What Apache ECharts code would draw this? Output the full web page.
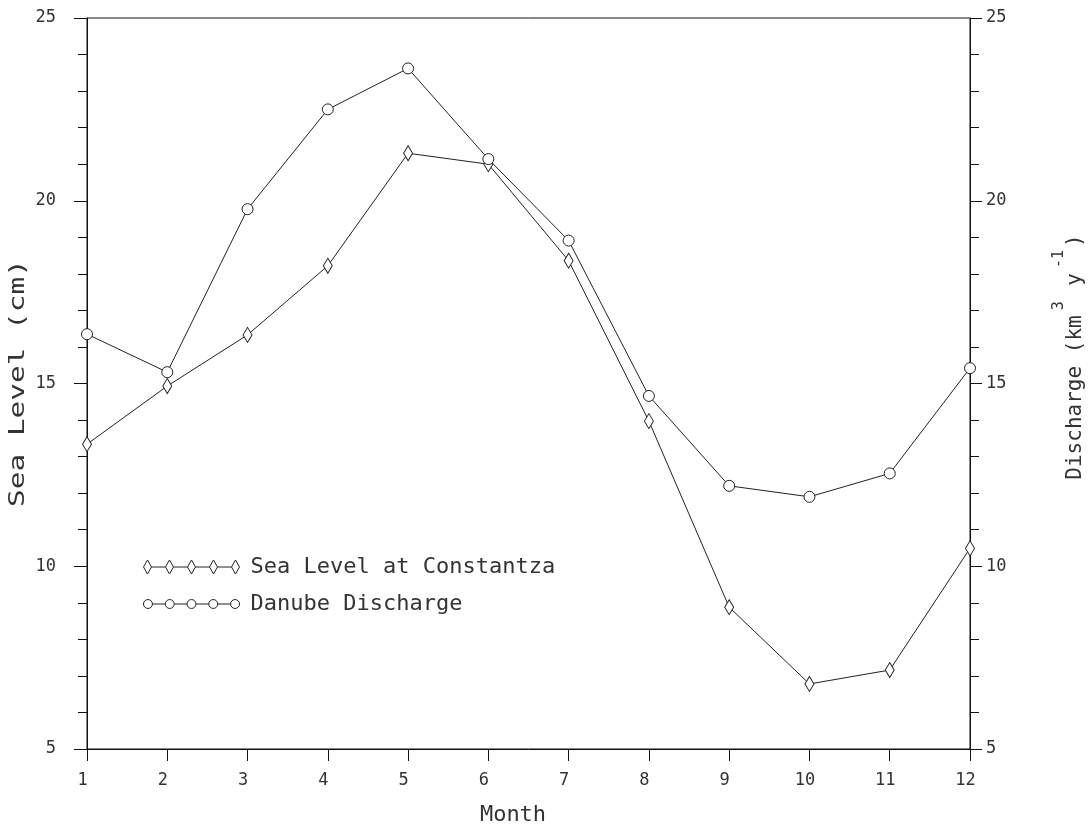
<!DOCTYPE html>
<html>
<head>
<meta charset="utf-8">
<script src="https://cdn.jsdelivr.net/npm/echarts@6/dist/echarts.min.js"></script>
<style>
html,body{margin:0;padding:0;background:#fff;}
#c{width:1089px;height:827px;}
</style>
</head>
<body>
<div id="c"></div>
<script>
const months = [1, 2, 3, 4, 5, 6, 7, 8, 9, 10, 11, 12];
const seaLevel = [13.34, 14.93, 16.33, 18.22, 21.30, 21.00, 18.36, 13.97, 8.88, 6.78, 7.16, 10.49];
const discharge = [16.35, 15.31, 19.77, 22.50, 23.62, 21.14, 18.91, 14.66, 12.20, 11.90, 12.54, 15.42];
const seriesNames = ['Sea Level at Constantza', 'Danube Discharge'];
const yRange = [5, 25];
const yStep = 5;

const FONT = 'DejaVu Sans Mono';
const INK = '#111';
const LINE = '#222';
const TXT = '#333';

const diamondIcon = 'path://M4 0 L8 7 L4 14 L0 7 Z M8 7 L22 7 M26 0 L30 7 L26 14 L22 7 Z M30 7 L44 7 M48 0 L52 7 L48 14 L44 7 Z M52 7 L66 7 M70 0 L74 7 L70 14 L66 7 Z M74 7 L88 7 M92 0 L96 7 L92 14 L88 7 Z';
function circ(cx){return 'M'+(cx-4.5)+' 7 A4.5 4.5 0 1 0 '+(cx+4.5)+' 7 A4.5 4.5 0 1 0 '+(cx-4.5)+' 7 Z ';}
let circleIcon = 'path://';
for (let k = 0; k < 5; k++) {
  const cx = 4.5 + 22 * k;
  circleIcon += circ(cx);
  if (k < 4) circleIcon += 'M' + (cx + 4.5) + ' 7 L' + (cx + 17.5) + ' 7 ';
}

const chart = echarts.init(document.getElementById('c'), null, {renderer: 'canvas'});

const yAxisCommon = {
  type: 'value', min: yRange[0], max: yRange[1], interval: yStep,
  axisLine: {show: true, lineStyle: {color: INK, width: 1}},
  splitLine: {show: false},
  minorTick: {show: true, splitNumber: 5, length: 9, lineStyle: {color: INK, width: 1}},
  axisLabel: {fontFamily: FONT, fontSize: 17, color: TXT, padding: [8, 0, 0, 0]}
};

chart.setOption({
  animation: false,
  backgroundColor: '#fff',
  grid: {left: 87, right: 119, top: 18, bottom: 78, show: true, borderColor: INK, borderWidth: 1, backgroundColor: 'transparent'},
  legend: {
    orient: 'vertical', left: 138, top: 551,
    itemWidth: 96, itemHeight: 14, itemGap: 15,
    itemStyle: {color: '#fff', borderColor: LINE, borderWidth: 1},
    textStyle: {fontFamily: FONT, fontSize: 22, color: TXT, padding: [0, 0, 0, 6]},
    data: [
      {name: seriesNames[0], icon: diamondIcon},
      {name: seriesNames[1], icon: circleIcon}
    ]
  },
  xAxis: {
    type: 'value', min: months[0], max: months[months.length - 1], interval: 1,
    axisLine: {show: true, onZero: false, lineStyle: {color: INK, width: 1}},
    axisTick: {show: true, length: 12, lineStyle: {color: INK}},
    splitLine: {show: false},
    axisLabel: {fontFamily: FONT, fontSize: 17, color: TXT, margin: 23, padding: [0, 9, 0, 0]}
  },
  yAxis: [
    Object.assign({}, yAxisCommon, {
      position: 'left',
      axisTick: {show: true, length: 13, lineStyle: {color: INK}},
      axisLabel: Object.assign({}, yAxisCommon.axisLabel, {margin: 31})
    }),
    Object.assign({}, yAxisCommon, {
      position: 'right',
      axisTick: {show: true, length: 12, lineStyle: {color: INK}},
      axisLabel: Object.assign({}, yAxisCommon.axisLabel, {margin: 16})
    })
  ],
  graphic: [
    {type: 'text', x: 513, y: 815, style: {text: 'Month', font: '22px ' + FONT, fill: TXT, align: 'center', verticalAlign: 'middle'}},
    {type: 'text', x: 19, y: 383, rotation: Math.PI / 2, scaleX: 1.4,
     style: {text: 'Sea Level (cm)', font: '21px ' + FONT, fill: TXT, align: 'center', verticalAlign: 'middle'}},
    {type: 'text', x: 1075, y: 357, rotation: Math.PI / 2,
     style: {
       text: '{n|Discharge (km}{s|3}{n| y}{s|-1}{n|)}',
       align: 'center', verticalAlign: 'middle',
       rich: {
         n: {font: '21px ' + FONT, fill: TXT, verticalAlign: 'bottom', lineHeight: 22},
         s: {font: '15px ' + FONT, fill: TXT, verticalAlign: 'bottom', lineHeight: 15, padding: [0, 3, 19, 5]}
       }
     }}
  ],
  series: [
    {
      name: seriesNames[0], type: 'line', yAxisIndex: 0,
      data: months.map((m, i) => [m, seaLevel[i]]),
      symbol: 'diamond', symbolSize: [9, 15], showAllSymbol: true,
      lineStyle: {color: LINE, width: 1},
      itemStyle: {color: '#fff', borderColor: LINE, borderWidth: 1}
    },
    {
      name: seriesNames[1], type: 'line', yAxisIndex: 1,
      data: months.map((m, i) => [m, discharge[i]]),
      symbol: 'circle', symbolSize: 11, showAllSymbol: true,
      lineStyle: {color: LINE, width: 1},
      itemStyle: {color: '#fff', borderColor: LINE, borderWidth: 1}
    }
  ]
});
</script>
</body>
</html>
